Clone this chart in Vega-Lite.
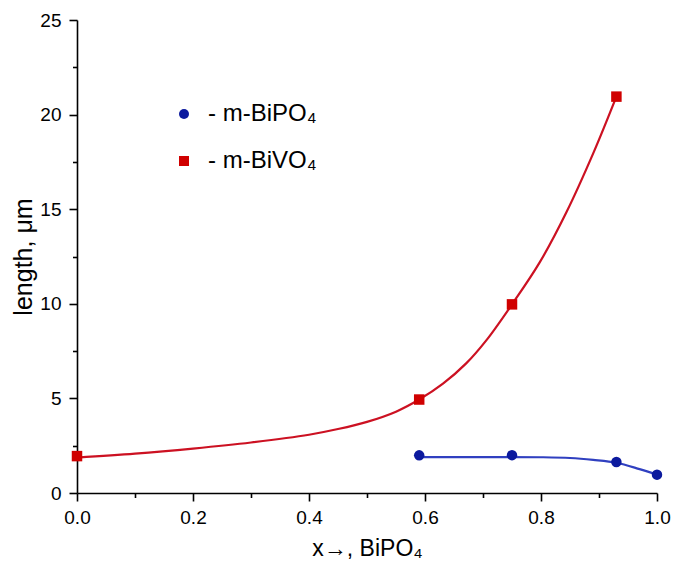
{
  "$schema": "https://vega.github.io/schema/vega-lite/v6.json",
  "width": 580,
  "height": 473,
  "autosize": {"type": "none"},
  "padding": {"left": 77, "top": 20, "right": 18, "bottom": 75},
  "background": "white",
  "config": {
    "view": {"stroke": null},
    "font": "Liberation Sans",
    "axis": {
      "domainColor": "black",
      "domainWidth": 1.6,
      "tickColor": "black",
      "tickWidth": 1.6,
      "grid": false,
      "labelFont": "Liberation Sans",
      "labelFontSize": 19,
      "labelColor": "black",
      "titleFont": "Liberation Sans",
      "titleFontWeight": "normal",
      "titleColor": "black"
    },
    "legend": {
      "orient": "none",
      "legendX": 95,
      "legendY": 82,
      "padding": 0,
      "labelFont": "Liberation Sans",
      "labelFontSize": 24,
      "labelColor": "black",
      "labelOffset": 12,
      "rowPadding": 23,
      "symbolSize": 100,
      "symbolStrokeWidth": 0
    }
  },
  "datasets": {
    "pts": [
      {"x": 0.0, "len": 1.95, "series": "m-BiVO₄"},
      {"x": 0.59, "len": 4.94, "series": "m-BiVO₄"},
      {"x": 0.75, "len": 9.97, "series": "m-BiVO₄"},
      {"x": 0.93, "len": 20.95, "series": "m-BiVO₄"},
      {"x": 0.59, "len": 1.99, "series": "m-BiPO₄"},
      {"x": 0.75, "len": 2.0, "series": "m-BiPO₄"},
      {"x": 0.93, "len": 1.64, "series": "m-BiPO₄"},
      {"x": 1.0, "len": 0.97, "series": "m-BiPO₄"}
    ],
    "fit": [
      {"x": 0.0, "len": 1.87, "series": "m-BiVO₄"},
      {"x": 0.1, "len": 2.08, "series": "m-BiVO₄"},
      {"x": 0.2, "len": 2.35, "series": "m-BiVO₄"},
      {"x": 0.3, "len": 2.67, "series": "m-BiVO₄"},
      {"x": 0.4, "len": 3.08, "series": "m-BiVO₄"},
      {"x": 0.45, "len": 3.38, "series": "m-BiVO₄"},
      {"x": 0.5, "len": 3.76, "series": "m-BiVO₄"},
      {"x": 0.55, "len": 4.3, "series": "m-BiVO₄"},
      {"x": 0.59, "len": 4.94, "series": "m-BiVO₄"},
      {"x": 0.631, "len": 5.78, "series": "m-BiVO₄"},
      {"x": 0.671, "len": 6.85, "series": "m-BiVO₄"},
      {"x": 0.706, "len": 8.08, "series": "m-BiVO₄"},
      {"x": 0.75, "len": 9.97, "series": "m-BiVO₄"},
      {"x": 0.798, "len": 12.2, "series": "m-BiVO₄"},
      {"x": 0.844, "len": 14.85, "series": "m-BiVO₄"},
      {"x": 0.89, "len": 17.95, "series": "m-BiVO₄"},
      {"x": 0.93, "len": 20.95, "series": "m-BiVO₄"},
      {"x": 0.59, "len": 1.9, "series": "m-BiPO₄"},
      {"x": 0.7, "len": 1.9, "series": "m-BiPO₄"},
      {"x": 0.8, "len": 1.89, "series": "m-BiPO₄"},
      {"x": 0.85, "len": 1.85, "series": "m-BiPO₄"},
      {"x": 0.89, "len": 1.75, "series": "m-BiPO₄"},
      {"x": 0.93, "len": 1.6, "series": "m-BiPO₄"},
      {"x": 0.97, "len": 1.26, "series": "m-BiPO₄"},
      {"x": 1.0, "len": 0.97, "series": "m-BiPO₄"}
    ]
  },
  "layer": [
    {
      "data": {"name": "fit"},
      "transform": [{"filter": "datum.series === 'm-BiVO₄'"}],
      "mark": {"type": "line", "interpolate": "catmull-rom", "strokeWidth": 2.2, "color": "#cc1122"},
      "encoding": {
        "x": {"field": "x", "type": "quantitative"},
        "y": {"field": "len", "type": "quantitative"}
      }
    },
    {
      "data": {"name": "fit"},
      "transform": [{"filter": "datum.series === 'm-BiPO₄'"}],
      "mark": {"type": "line", "interpolate": "catmull-rom", "strokeWidth": 2.2, "color": "#3040c0"},
      "encoding": {
        "x": {"field": "x", "type": "quantitative"},
        "y": {"field": "len", "type": "quantitative"}
      }
    },
    {
      "data": {"name": "pts"},
      "mark": {"type": "point", "filled": true, "opacity": 1, "size": 110},
      "encoding": {
        "x": {
          "field": "x", "type": "quantitative",
          "scale": {"domain": [0, 1], "nice": false, "zero": false},
          "axis": {
            "values": [0, 0.1, 0.2, 0.3, 0.4, 0.5, 0.6, 0.7, 0.8, 0.9, 1.0],
            "format": ".1f",
            "labelExpr": "round(datum.value*10) % 2 === 0 ? datum.label : ''",
            "tickSize": {"condition": {"test": "round(datum.value*10) % 2 === 0", "value": 8}, "value": 4.5},
            "labelPadding": 7,
            "labelFlush": false,
            "title": "x→, BiPO₄",
            "titleFontSize": 23,
            "titlePadding": 10
          }
        },
        "y": {
          "field": "len", "type": "quantitative",
          "scale": {"domain": [0, 25], "nice": false},
          "axis": {
            "values": [0, 2.5, 5, 7.5, 10, 12.5, 15, 17.5, 20, 22.5, 25],
            "labelExpr": "datum.value % 5 === 0 ? datum.label : ''",
            "tickSize": {"condition": {"test": "datum.value % 5 === 0", "value": 8}, "value": 4.5},
            "labelPadding": 8,
            "labelFlush": false,
            "title": "length, μm",
            "titleFontSize": 25,
            "titlePadding": 3
          }
        },
        "shape": {"field": "series", "type": "nominal",
          "scale": {"domain": ["m-BiPO₄", "m-BiVO₄"], "range": ["circle", "square"]},
          "legend": {"title": null, "labelExpr": "'- ' + datum.label"}},
        "color": {"field": "series", "type": "nominal",
          "scale": {"domain": ["m-BiPO₄", "m-BiVO₄"], "range": ["#0c1a9e", "#d00000"]},
          "legend": {"title": null, "labelExpr": "'- ' + datum.label"}}
      }
    }
  ]
}
